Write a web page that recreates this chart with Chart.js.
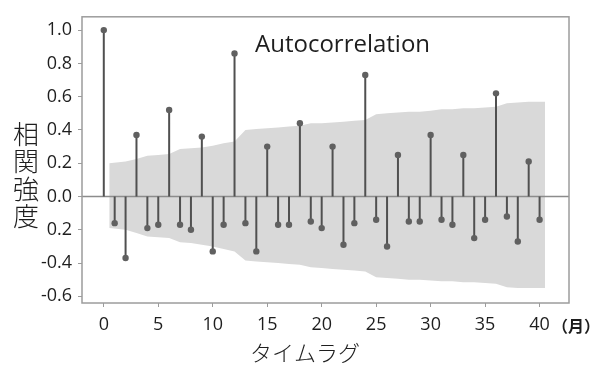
<!DOCTYPE html>
<html>
<head>
<meta charset="utf-8">
<script src="https://cdn.jsdelivr.net/npm/chart.js@4/dist/chart.umd.min.js"></script>
<style>
  html, body { margin: 0; padding: 0; background: #fff; overflow: hidden; }
  #acfChart { display: block; }
</style>
</head>
<body>
<canvas id="acfChart" width="596" height="369"></canvas>
<script>
// lags (months) and autocorrelation values
const lags = [0, 1, 2, 3, 4, 5, 6, 7, 8, 9, 10, 11, 12, 13, 14, 15, 16, 17, 18, 19, 20,
              21, 22, 23, 24, 25, 26, 27, 28, 29, 30, 31, 32, 33, 34, 35, 36, 37, 38, 39, 40];
const acf = [1.00, -0.16, -0.37, 0.37, -0.19, -0.17, 0.52, -0.17, -0.20, 0.36, -0.33,
             -0.17, 0.86, -0.16, -0.33, 0.30, -0.17, -0.17, 0.44, -0.15, -0.19,
             0.30, -0.29, -0.16, 0.73, -0.14, -0.30, 0.25, -0.15, -0.15, 0.37,
             -0.14, -0.17, 0.25, -0.25, -0.14, 0.62, -0.12, -0.27, 0.21, -0.14];

// confidence band, lags 1..40
const upperBand = [0.20, 0.21, 0.225, 0.245, 0.25, 0.255, 0.285, 0.29, 0.295, 0.305,
                   0.32, 0.33, 0.40, 0.405, 0.41, 0.415, 0.42, 0.425, 0.44, 0.44,
                   0.445, 0.45, 0.455, 0.46, 0.495, 0.50, 0.505, 0.51, 0.51, 0.515,
                   0.525, 0.525, 0.53, 0.53, 0.535, 0.54, 0.56, 0.565, 0.57, 0.57];
const lowerBand = [-0.19, -0.20, -0.22, -0.24, -0.245, -0.25, -0.275, -0.28, -0.29, -0.30,
                   -0.315, -0.33, -0.385, -0.39, -0.395, -0.40, -0.405, -0.41, -0.425, -0.43,
                   -0.435, -0.44, -0.445, -0.45, -0.485, -0.49, -0.495, -0.50, -0.50, -0.505,
                   -0.51, -0.51, -0.515, -0.515, -0.52, -0.525, -0.545, -0.55, -0.55, -0.55];

const xTicks = [0, 5, 10, 15, 20, 25, 30, 35, 40];
const yTicks = [1.0, 0.8, 0.6, 0.4, 0.2, 0.0, -0.2, -0.4, -0.6];
const yTickLabels = ['1.0', '0.8', '0.6', '0.4', '0.2', '0.0', '0.2', '-0.4', '-0.6'];

const xMin = -2, xMax = 42.7, yMin = -0.64, yMax = 1.08;

const FONT = "'Open Sans', 'Noto Sans CJK JP', sans-serif";
const JP_FONT = "'Noto Sans CJK JP', sans-serif";

// band runs from half a lag before lag 1 to half a lag after lag 40
const bandX = lags.slice(1).map((l, i, a) => i === 0 ? l - 0.5 : (i === a.length - 1 ? l + 0.5 : l));

// stems: 0 -> value, separated by gaps
const stemData = [];
lags.forEach((l, i) => {
    stemData.push({x: l, y: 0});
    stemData.push({x: l, y: acf[i]});
    stemData.push({x: l, y: null});
});

const extras = {
    id: 'extras',
    afterDraw(chart) {
        const {ctx, chartArea: a} = chart;
        ctx.save();
        // frame
        ctx.strokeStyle = '#9c9c9c';
        ctx.lineWidth = 1.5;
        ctx.strokeRect(a.left, a.top, a.right - a.left, a.bottom - a.top);
        // title inside plot
        ctx.fillStyle = '#1e1e1e';
        ctx.font = '24px ' + FONT;
        ctx.textAlign = 'left';
        ctx.textBaseline = 'alphabetic';
        ctx.fillText('Autocorrelation', 255, 52);
        // y axis title, stacked vertically
        ctx.font = '300 26px ' + JP_FONT;
        ctx.textAlign = 'center';
        ctx.textBaseline = 'middle';
        ['相', '関', '強', '度'].forEach((c, i) => ctx.fillText(c, 26, 134 + i * 27.5));
        // x axis title
        ctx.font = '300 22px ' + JP_FONT;
        ctx.fillText('タイムラグ', 305, 353);
        // unit
        ctx.font = 'bold 16px ' + JP_FONT;
        ctx.textAlign = 'left';
        ctx.fillText('（月）', 552, 326);
        ctx.restore();
    }
};

const ctx = document.getElementById('acfChart').getContext('2d');
const acfChart = new Chart(ctx, {
    type: 'line',
    data: {
        datasets: [
            {
                label: 'upper',
                data: bandX.map((x, i) => ({x: x, y: upperBand[i]})),
                borderWidth: 0,
                pointRadius: 0,
                backgroundColor: '#d9d9d9',
                fill: '+1',
                tension: 0,
                order: 4
            },
            {
                label: 'lower',
                data: bandX.map((x, i) => ({x: x, y: lowerBand[i]})),
                borderWidth: 0,
                pointRadius: 0,
                fill: false,
                tension: 0,
                order: 4
            },
            {
                label: 'zero',
                data: [{x: xMin, y: 0}, {x: xMax, y: 0}],
                borderColor: '#8c8c8c',
                borderWidth: 1.5,
                pointRadius: 0,
                fill: false,
                order: 3
            },
            {
                label: 'stems',
                data: stemData,
                borderColor: '#505050',
                borderWidth: 2,
                borderCapStyle: 'butt',
                pointRadius: 0,
                spanGaps: false,
                fill: false,
                order: 2
            },
            {
                label: 'acf',
                data: lags.map((l, i) => ({x: l, y: acf[i]})),
                showLine: false,
                pointRadius: 3.2,
                pointBackgroundColor: '#606060',
                pointBorderColor: '#606060',
                pointBorderWidth: 0,
                order: 1
            }
        ]
    },
    options: {
        responsive: false,
        animation: false,
        devicePixelRatio: 1,
        layout: { padding: { left: 0, top: 14, right: 27, bottom: 0 } },
        plugins: {
            legend: { display: false },
            tooltip: { enabled: false },
            title: { display: false }
        },
        scales: {
            x: {
                type: 'linear',
                min: xMin,
                max: xMax,
                afterBuildTicks: s => { s.ticks = xTicks.map(v => ({value: v})); },
                afterFit: s => { s.height = 66; },
                grid: { display: true, drawOnChartArea: false, drawTicks: true, tickLength: 4, tickColor: '#9c9c9c' },
                border: { display: false },
                ticks: {
                    color: '#1e1e1e',
                    font: { family: FONT, size: 18 },
                    padding: 7,
                    maxRotation: 0,
                    autoSkip: false,
                    callback: v => String(v)
                }
            },
            y: {
                type: 'linear',
                min: yMin,
                max: yMax,
                afterBuildTicks: s => { s.ticks = yTicks.map(v => ({value: v})); },
                afterFit: s => { s.width = 82; },
                grid: { display: true, drawOnChartArea: false, drawTicks: true, tickLength: 4, tickColor: '#9c9c9c' },
                border: { display: false },
                ticks: {
                    color: '#1e1e1e',
                    font: { family: FONT, size: 18 },
                    padding: 6,
                    autoSkip: false,
                    callback: (v, i) => yTickLabels[i]
                }
            }
        }
    },
    plugins: [extras]
});
</script>
</body>
</html>
